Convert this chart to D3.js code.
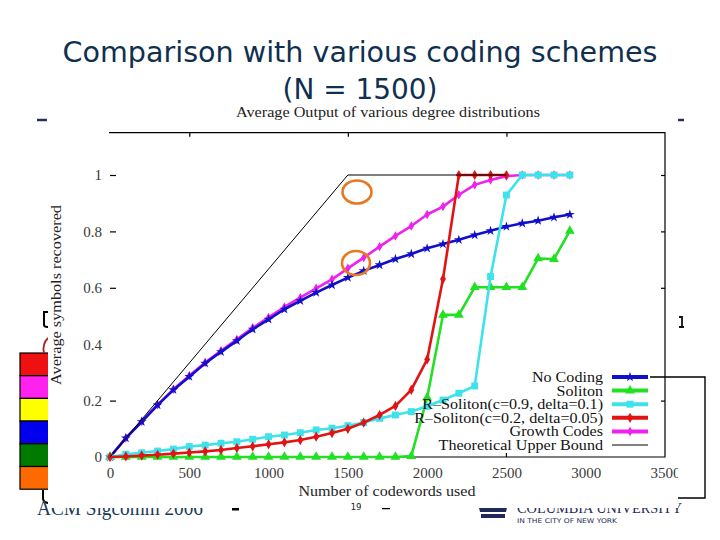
<!DOCTYPE html>
<html>
<head>
<meta charset="utf-8">
<script src="https://cdn.jsdelivr.net/npm/d3@7"></script>
<style>
  body { margin: 0; background: #fff; }
  svg { display: block; }
</style>
</head>
<body>
<svg id="slide" width="720" height="540"></svg>
<script>
// codewords used (x values of the sampled points)
const codewords = [0, 100, 200, 300, 400, 500, 600, 700, 800, 900, 1000, 1100, 1200, 1300, 1400,
  1500, 1600, 1700, 1800, 1900, 2000, 2100, 2200, 2300, 2400, 2500, 2600, 2700, 2800, 2900];

const noCoding = [0, 0.067, 0.125, 0.184, 0.238, 0.285, 0.332, 0.373, 0.412, 0.453, 0.488, 0.524, 0.554, 0.583, 0.61,
  0.636, 0.66, 0.681, 0.702, 0.72, 0.74, 0.755, 0.77, 0.787, 0.802, 0.817, 0.829, 0.838, 0.85, 0.86];
const soliton = [0, 0, 0, 0, 0, 0, 0, 0, 0, 0, 0, 0, 0, 0, 0,
  0, 0, 0, 0, 0.003, 0.21, 0.504, 0.504, 0.602, 0.602, 0.602, 0.602, 0.704, 0.702, 0.802];
const rSoliton09 = [0, 0.01, 0.015, 0.021, 0.028, 0.037, 0.042, 0.049, 0.054, 0.063, 0.072, 0.078, 0.086, 0.096, 0.102,
  0.111, 0.122, 0.137, 0.149, 0.161, 0.18, 0.202, 0.226, 0.252, 0.64, 0.929, 1, 1, 1, 1];
const rSoliton02 = [0, 0.002, 0.005, 0.008, 0.012, 0.016, 0.02, 0.025, 0.032, 0.038, 0.045, 0.052, 0.06, 0.072, 0.085,
  0.1, 0.122, 0.149, 0.181, 0.238, 0.346, 0.631, 1, 1, 1, 1];
const growthCodes = [0, 0.067, 0.126, 0.185, 0.24, 0.288, 0.335, 0.377, 0.417, 0.458, 0.495, 0.532, 0.565, 0.598, 0.63,
  0.669, 0.707, 0.746, 0.784, 0.819, 0.86, 0.888, 0.93, 0.965, 0.982, 0.996, 1, 1, 1, 1];
const upperBoundX = [0, 1500, 2500];
const upperBound = [0, 1, 1];

const legendNames = ["No Coding", "Soliton", "R\u2013Soliton(c=0.9, delta=0.1)",
  "R\u2013Soliton(c=0.2, delta=0.05)", "Growth Codes", "Theoretical Upper Bound"];
const yTicks = [0, 0.2, 0.4, 0.6, 0.8, 1];
const xTicks = [0, 500, 1000, 1500, 2000, 2500, 3000, 3500];
const swatchColors = ["#ee1111", "#ff22ee", "#ffff00", "#0000ee", "#007a00", "#ff6a00"];

const svg = d3.select("#slide");
const navy = "#10304f";

// ---- slide layer (partly covered by the chart picture) ----
svg.append("text")
  .attr("x", 360).attr("y", 62)
  .attr("text-anchor", "middle")
  .attr("textLength", 595).attr("lengthAdjust", "spacingAndGlyphs")
  .style("font-family", "'DejaVu Sans'").style("font-size", "29px")
  .style("fill", navy)
  .text("Comparison with various coding schemes");
svg.append("text")
  .attr("x", 360).attr("y", 99)
  .attr("text-anchor", "middle")
  .attr("textLength", 155).attr("lengthAdjust", "spacingAndGlyphs")
  .style("font-family", "'DejaVu Sans'").style("font-size", "29px")
  .style("fill", navy)
  .text("(N = 1500)");

// little dashes of the bullet text behind the picture
svg.append("line").attr("x1", 37).attr("x2", 47).attr("y1", 120).attr("y2", 120)
  .attr("stroke", "#2a2f5a").attr("stroke-width", 2.5);
svg.append("line").attr("x1", 678).attr("x2", 684).attr("y1", 120).attr("y2", 120)
  .attr("stroke", "#2a2f5a").attr("stroke-width", 2.5);
// bit of a glyph peeking out at the right
svg.append("path").attr("d", "M679,317 L682,317 L682,327 M679,327 L684,327")
  .attr("fill", "none").attr("stroke", "#111").attr("stroke-width", 1.8);

// colour swatches at the left
svg.selectAll(".swatch")
  .data(swatchColors)
  .join("rect")
  .attr("class", "swatch")
  .attr("x", 20).attr("width", 40)
  .attr("y", (d, i) => 353 + i * 22.7).attr("height", 22.7)
  .attr("fill", d => d)
  .attr("stroke", "#000").attr("stroke-width", 1.2);

svg.append("path").attr("d", "M48,312 L44,312 L44,325 Q44,327 48,327")
  .attr("fill", "none").attr("stroke", "#000").attr("stroke-width", 2);
svg.append("path").attr("d", "M48,338 Q42,344 44,353")
  .attr("fill", "none").attr("stroke", "#b02020").attr("stroke-width", 1.8);
svg.append("path").attr("d", "M43,490 L43,499 Q44,503 49,503")
  .attr("fill", "none").attr("stroke", "#000").attr("stroke-width", 2);

// footer
svg.append("text")
  .attr("x", 37).attr("y", 515)
  .attr("textLength", 166).attr("lengthAdjust", "spacingAndGlyphs")
  .style("font-family", "'Liberation Serif'").style("font-size", "20px")
  .style("fill", "#1b3a5a")
  .text("ACM Sigcomm 2006");
svg.append("path").attr("d", "M232,509 L239,509").attr("stroke", "#000").attr("stroke-width", 3);
svg.append("path").attr("d", "M382,508 L390,508").attr("stroke", "#000").attr("stroke-width", 2.5);

svg.append("text")
  .attr("x", 517).attr("y", 513)
  .attr("textLength", 165).attr("lengthAdjust", "spacingAndGlyphs")
  .style("font-family", "'Liberation Serif'").style("font-size", "15px")
  .style("fill", "#1f2a5a")
  .text("COLUMBIA UNIVERSITY");
svg.append("text")
  .attr("x", 517).attr("y", 523)
  .attr("textLength", 100).attr("lengthAdjust", "spacingAndGlyphs")
  .style("font-family", "'DejaVu Sans'").style("font-size", "6.5px")
  .style("fill", "#1f2a5a")
  .text("IN THE CITY OF NEW YORK");
// crown
svg.append("path")
  .attr("d", "M478,503 L508,503 L506,512 L480,512 Z M481,514 L505,514 L505,518 L481,518 Z")
  .attr("fill", "#1f2a5a");

// ---- chart picture ----
svg.append("rect")
  .attr("x", 48).attr("y", 104).attr("width", 630).attr("height", 404)
  .attr("fill", "#fff");

svg.append("clipPath").attr("id", "pic")
  .append("rect").attr("x", 48).attr("y", 104).attr("width", 630).attr("height", 404);

const g = svg.append("g").attr("clip-path", "url(#pic)");

const x = d3.scaleLinear().domain([0, 3500]).range([110, 665]);
const y = d3.scaleLinear().domain([0, 1.15]).range([457, 132.7]);
const serif = "'Liberation Serif', 'DejaVu Serif', serif";

// frame: top, right, bottom
g.append("path")
  .attr("d", `M${x(0) - 1},${y(1.15)} H${x(3500)} V${y(0)} H${x(0)}`)
  .attr("fill", "none").attr("stroke", "#000").attr("stroke-width", 1.2);

// left axis: labels and inward ticks
const yAxis = g.append("g")
  .attr("transform", `translate(${x(0)},0)`)
  .call(d3.axisLeft(y).tickValues(yTicks).tickSize(-6).tickPadding(8).tickFormat(d3.format("")));
yAxis.select(".domain").remove();
yAxis.selectAll(".tick line")
  .attr("stroke", "#000").attr("stroke-width", 1.2)
  .style("display", d => (d === 0 || d === 0.4) ? "none" : null);
yAxis.selectAll(".tick text")
  .style("font-family", serif).style("font-size", "15px").style("fill", "#3a3a3a");

// right axis ticks
const yRight = g.append("g")
  .attr("transform", `translate(${x(3500)},0)`)
  .call(d3.axisRight(y).tickValues([0.2, 0.6, 0.8, 1]).tickSize(-4).tickFormat(""));
yRight.select(".domain").remove();
yRight.selectAll(".tick line").attr("stroke", "#000").attr("stroke-width", 1.2);

// top ticks
const xTop = g.append("g")
  .attr("transform", `translate(0,${y(1.15)})`)
  .call(d3.axisTop(x).tickValues([500, 1500, 2500]).tickSize(-4).tickFormat(""));
xTop.select(".domain").remove();
xTop.selectAll(".tick line").attr("stroke", "#000").attr("stroke-width", 1.2);

// bottom axis labels
const xAxis = g.append("g")
  .attr("transform", `translate(0,${y(0)})`)
  .call(d3.axisBottom(x).tickValues(xTicks).tickSize(0).tickPadding(10).tickFormat(d3.format("d")));
xAxis.select(".domain").remove();
xAxis.selectAll(".tick text")
  .style("font-family", serif).style("font-size", "15px").style("fill", "#3a3a3a");
g.append("line")
  .attr("x1", x(2500)).attr("x2", x(2500))
  .attr("y1", y(0)).attr("y2", y(0) - 4)
  .attr("stroke", "#000").attr("stroke-width", 1.2);

// titles
g.append("text")
  .attr("x", 388).attr("y", 117)
  .attr("text-anchor", "middle")
  .attr("textLength", 304).attr("lengthAdjust", "spacingAndGlyphs")
  .style("font-family", serif).style("font-size", "15px").style("fill", "#222")
  .text("Average Output of various degree distributions");
g.append("text")
  .attr("x", 387).attr("y", 496)
  .attr("text-anchor", "middle")
  .attr("textLength", 177).attr("lengthAdjust", "spacingAndGlyphs")
  .style("font-family", serif).style("font-size", "15px").style("fill", "#222")
  .text("Number of codewords used");
g.append("text")
  .attr("transform", "translate(61,295) rotate(-90)")
  .attr("text-anchor", "middle")
  .attr("textLength", 180).attr("lengthAdjust", "spacingAndGlyphs")
  .style("font-family", serif).style("font-size", "15px").style("fill", "#222")
  .text("Average symbols recovered");

// series, drawn in the stacking order seen in the picture
const series = [
  { name: legendNames[4], xs: codewords, ys: growthCodes, color: "#ee22ee", symbol: d3.symbolDiamond, size: 26, row: 4 },
  { name: legendNames[0], xs: codewords, ys: noCoding, color: "#1010cc", symbol: d3.symbolStar, size: 30, row: 0 },
  { name: legendNames[1], xs: codewords, ys: soliton, color: "#22e022", symbol: d3.symbolTriangle, size: 42, row: 1 },
  { name: legendNames[2], xs: codewords, ys: rSoliton09, color: "#3ee2ea", symbol: d3.symbolSquare, size: 48, row: 2 },
  { name: legendNames[3], xs: codewords, ys: rSoliton02, color: "#e01414", symbol: d3.symbolDiamond, size: 30, row: 3 }
];

const line = d3.line().x(d => x(d[0])).y(d => y(d[1]));

series.forEach(s => {
  const pts = s.ys.map((v, i) => [s.xs[i], v]);
  g.append("path")
    .attr("d", line(pts))
    .attr("fill", "none")
    .attr("stroke", s.color)
    .attr("stroke-width", 2.6)
    .attr("stroke-linejoin", "round");
  g.selectAll(null)
    .data(pts)
    .join("path")
    .attr("transform", d => `translate(${x(d[0])},${y(d[1])})`)
    .attr("d", d3.symbol(s.symbol, s.size))
    .attr("fill", s.color);
});

// theoretical upper bound
g.append("path")
  .attr("d", line(upperBound.map((v, i) => [upperBoundX[i], v])))
  .attr("fill", "none").attr("stroke", "#000").attr("stroke-width", 1);

// legend (text squeezed vertically and a little wider, as in the picture)
const legendRowY = r => 377 + r * 13.6;
const legend = g.append("g");
legendNames.forEach((name, r) => {
  legend.append("text")
    .attr("transform", `translate(603,${legendRowY(r) + 5}) scale(1.15,1)`)
    .attr("text-anchor", "end")
    .style("font-family", serif).style("font-size", "14px").style("fill", "#111")
    .text(name);
});
series.forEach(s => {
  legend.append("line")
    .attr("x1", 612).attr("x2", 648)
    .attr("y1", legendRowY(s.row)).attr("y2", legendRowY(s.row))
    .attr("stroke", s.color).attr("stroke-width", 4);
  legend.append("path")
    .attr("transform", `translate(630,${legendRowY(s.row)})`)
    .attr("d", d3.symbol(s.symbol, s.size))
    .attr("fill", s.color);
});
legend.append("line")
  .attr("x1", 612).attr("x2", 648)
  .attr("y1", legendRowY(5)).attr("y2", legendRowY(5))
  .attr("stroke", "#000").attr("stroke-width", 1);

// ---- slide overlays ----
svg.append("ellipse").attr("cx", 357).attr("cy", 192).attr("rx", 14.5).attr("ry", 11.5)
  .attr("fill", "none").attr("stroke", "#e87722").attr("stroke-width", 2.6);
svg.append("ellipse").attr("cx", 356).attr("cy", 263).attr("rx", 14).attr("ry", 12)
  .attr("fill", "none").attr("stroke", "#e87722").attr("stroke-width", 2.6);

svg.append("path").attr("d", "M650,377 H705 V498 H678")
  .attr("fill", "none").attr("stroke", "#000").attr("stroke-width", 1.4);

svg.append("text")
  .attr("x", 356).attr("y", 510)
  .attr("text-anchor", "middle")
  .style("font-family", "'DejaVu Sans Mono'").style("font-size", "9px").style("fill", "#222")
  .text("19");
</script>
</body>
</html>
